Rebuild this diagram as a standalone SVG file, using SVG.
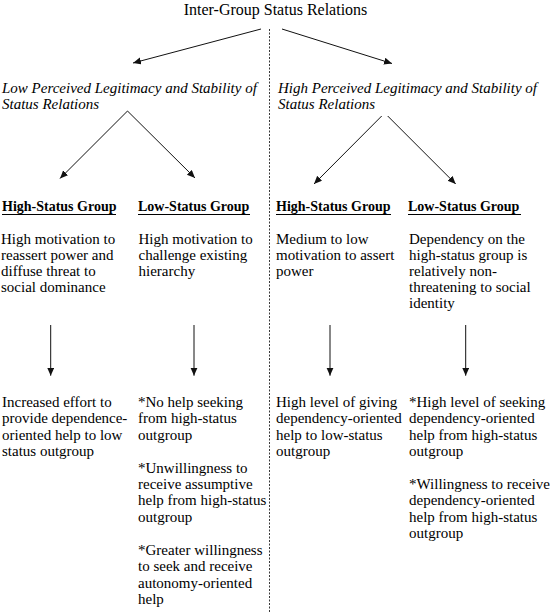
<svg xmlns="http://www.w3.org/2000/svg" width="553" height="612" viewBox="0 0 553 612" font-family="'Liberation Serif', 'Times New Roman', Times, serif">
  <style>
    text { font-family: 'Liberation Serif', 'Times New Roman', Times, serif; fill: #000; }
    .title { font-size: 16px; }
    .cond { font-size: 15px; font-style: italic; }
    .head { font-size: 14px; font-weight: bold; }
    .body { font-size: 15px; }
    .uline { stroke: #000; stroke-width: 1.2; }
    .conn { stroke: #111; stroke-width: 1; fill: none; }
    .divider { stroke: #222; stroke-width: 0.9; stroke-dasharray: 2 1.5; fill: none; }
  </style>
  <defs>
    <marker id="arrow" markerUnits="userSpaceOnUse" markerWidth="9" markerHeight="8" refX="8" refY="3.5" orient="auto">
      <path d="M0,0 L8,3.5 L0,7 z" fill="#111"/>
    </marker>
  </defs>
  <rect width="553" height="612" fill="#ffffff"/>

  <g id="connectors">
    <line class="divider" x1="269.5" y1="29" x2="269.5" y2="612"/>
    <line class="conn" x1="261" y1="29" x2="133" y2="63" marker-end="url(#arrow)"/>
    <line class="conn" x1="282" y1="29" x2="392" y2="63.5" marker-end="url(#arrow)"/>
    <line class="conn" x1="127.5" y1="111" x2="60" y2="178.5" marker-end="url(#arrow)"/>
    <line class="conn" x1="127.5" y1="111" x2="195" y2="178" marker-end="url(#arrow)"/>
    <line class="conn" x1="381.7" y1="116" x2="314" y2="184" marker-end="url(#arrow)"/>
    <line class="conn" x1="387.7" y1="116" x2="455.7" y2="184" marker-end="url(#arrow)"/>
    <line class="conn" x1="50.7" y1="325" x2="50.7" y2="375.7" marker-end="url(#arrow)"/>
    <line class="conn" x1="194" y1="325" x2="194" y2="375.7" marker-end="url(#arrow)"/>
    <line class="conn" x1="330" y1="325" x2="330" y2="375.7" marker-end="url(#arrow)"/>
    <line class="conn" x1="465.7" y1="325" x2="465.7" y2="375.7" marker-end="url(#arrow)"/>
  </g>

  <g id="title">
    <text class="title" x="275.5" y="15" text-anchor="middle">Inter-Group Status Relations</text>
  </g>

  <g id="low-legitimacy">
    <text class="cond" x="2" y="93">Low Perceived Legitimacy and Stability of</text>
    <text class="cond" x="2" y="109">Status Relations</text>
  </g>

  <g id="high-legitimacy">
    <text class="cond" x="278" y="93">High Perceived Legitimacy and Stability of</text>
    <text class="cond" x="278" y="109">Status Relations</text>
  </g>

  <g id="low-legit-high-status">
    <text class="head" x="2" y="211">High-Status Group</text>
    <line class="uline" x1="2" y1="214.5" x2="116" y2="214.5"/>
    <text class="body" x="1" y="243.5">High motivation to</text>
    <text class="body" x="1" y="259.7">reassert power and</text>
    <text class="body" x="1" y="275.9">diffuse threat to</text>
    <text class="body" x="1" y="292.1">social dominance</text>
  </g>

  <g id="low-legit-low-status">
    <text class="head" x="138" y="211">Low-Status Group</text>
    <line class="uline" x1="138" y1="214.5" x2="250" y2="214.5"/>
    <text class="body" x="138.5" y="243.5">High motivation to</text>
    <text class="body" x="138.5" y="259.7">challenge existing</text>
    <text class="body" x="138.5" y="275.9">hierarchy</text>
  </g>

  <g id="high-legit-high-status">
    <text class="head" x="276" y="211">High-Status Group</text>
    <line class="uline" x1="276" y1="214.5" x2="391" y2="214.5"/>
    <text class="body" x="276" y="243.5">Medium to low</text>
    <text class="body" x="276" y="259.7">motivation to assert</text>
    <text class="body" x="276" y="275.9">power</text>
  </g>

  <g id="high-legit-low-status">
    <text class="head" x="408" y="211">Low-Status Group</text>
    <line class="uline" x1="408" y1="214.5" x2="521" y2="214.5"/>
    <text class="body" x="409" y="243.5">Dependency on the</text>
    <text class="body" x="409" y="259.7">high-status group is</text>
    <text class="body" x="409" y="275.9">relatively non-</text>
    <text class="body" x="409" y="292.1">threatening to social</text>
    <text class="body" x="409" y="308.3">identity</text>
  </g>

  <g id="outcome-1">
    <text class="body" x="2" y="407">Increased effort to</text>
    <text class="body" x="2" y="423.4">provide dependence-</text>
    <text class="body" x="2" y="439.8">oriented help to low</text>
    <text class="body" x="2" y="456.2">status outgroup</text>
  </g>

  <g id="outcome-2">
    <text class="body" x="138" y="407">*No help seeking</text>
    <text class="body" x="138" y="423.4">from high-status</text>
    <text class="body" x="138" y="439.8">outgroup</text>
    <text class="body" x="138" y="472.5">*Unwillingness to</text>
    <text class="body" x="138" y="488.9">receive assumptive</text>
    <text class="body" x="138" y="505.3">help from high-status</text>
    <text class="body" x="138" y="521.7">outgroup</text>
    <text class="body" x="138" y="555">*Greater willingness</text>
    <text class="body" x="138" y="571.4">to seek and receive</text>
    <text class="body" x="138" y="587.8">autonomy-oriented</text>
    <text class="body" x="138" y="604.2">help</text>
  </g>

  <g id="outcome-3">
    <text class="body" x="276" y="407">High level of giving</text>
    <text class="body" x="276" y="423.4">dependency-oriented</text>
    <text class="body" x="276" y="439.8">help to low-status</text>
    <text class="body" x="276" y="456.2">outgroup</text>
  </g>

  <g id="outcome-4">
    <text class="body" x="409" y="407">*High level of seeking</text>
    <text class="body" x="409" y="423.4">dependency-oriented</text>
    <text class="body" x="409" y="439.8">help from high-status</text>
    <text class="body" x="409" y="456.2">outgroup</text>
    <text class="body" x="409" y="489">*Willingness to receive</text>
    <text class="body" x="409" y="505.4">dependency-oriented</text>
    <text class="body" x="409" y="521.8">help from high-status</text>
    <text class="body" x="409" y="538.2">outgroup</text>
  </g>
</svg>
